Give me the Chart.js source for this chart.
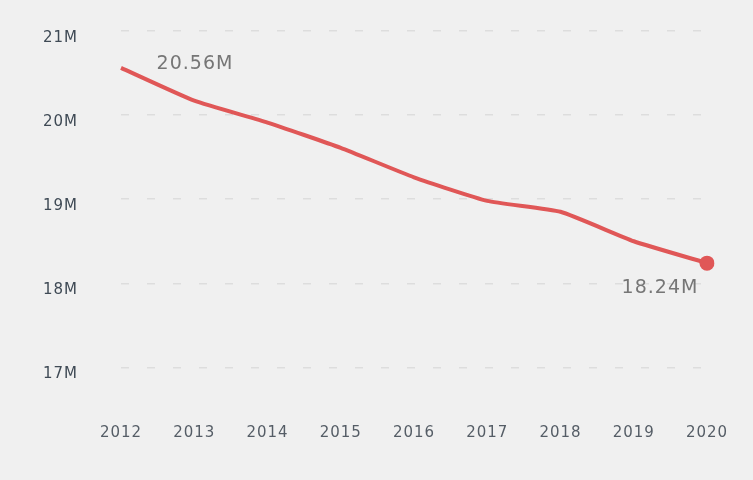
<!DOCTYPE html>
<html>
<head>
<meta charset="utf-8">
<script src="https://cdn.jsdelivr.net/npm/chart.js@4/dist/chart.umd.min.js"></script>
<style>
  html, body { margin: 0; padding: 0; background: #f0f0f0; }
  #wrap { width: 753px; height: 480px; }
</style>
</head>
<body>
<div id="wrap"><canvas id="popChart" width="753" height="480"></canvas></div>
<script>
const years = ["2012", "2013", "2014", "2015", "2016", "2017", "2018", "2019", "2020"];
const population = [20.56, 20.17, 19.91, 19.61, 19.26, 18.98, 18.85, 18.50, 18.24];
const yTicks = [17, 18, 19, 20, 21];
// value callouts: [index, text]
const callouts = [[0, "20.56M"], [8, "18.24M"]];

const lineColor = "#e05757";
const fontFamily = "'DejaVu Sans', sans-serif";

const spacingPlugin = {
  id: "spacing",
  beforeDraw(chart) { chart.ctx.letterSpacing = "1px"; }
};

const calloutPlugin = {
  id: "callouts",
  afterDatasetsDraw(chart) {
    const meta = chart.getDatasetMeta(0);
    const ctx = chart.ctx;
    ctx.save();
    ctx.font = "19px " + fontFamily;
    ctx.fillStyle = "#767676";
    ctx.textBaseline = "middle";
    ctx.textAlign = "center";
    callouts.forEach(([i, text]) => {
      const pt = meta.data[i];
      // first label sits to the right, last one below-left
      if (i === 0) ctx.fillText(text, pt.x + 74, pt.y - 4);
      else ctx.fillText(text, pt.x - 47, pt.y + 25);
    });
    ctx.restore();
  }
};

const ctx = document.getElementById("popChart").getContext("2d");
new Chart(ctx, {
  type: "line",
  data: {
    labels: years,
    datasets: [{
      data: population,
      borderColor: lineColor,
      borderWidth: 4,
      tension: 0.15,
      pointRadius: population.map((v, i) => i === population.length - 1 ? 7.5 : 0),
      pointBackgroundColor: lineColor,
      pointBorderWidth: 0,
      fill: false
    }]
  },
  options: {
    responsive: false,
    animation: false,
    layout: { padding: { top: 14, right: 46, bottom: 32, left: 43 } },
    plugins: { legend: { display: false }, tooltip: { enabled: false } },
    scales: {
      x: {
        offset: false,
        grid: { display: false, drawTicks: false },
        border: { display: false },
        ticks: { color: "#555d66", padding: 6, font: { family: fontFamily, size: 15 } }
      },
      y: {
        min: 16.4,
        max: 21.2,
        afterBuildTicks: axis => { axis.ticks = yTicks.map(v => ({ value: v })); },
        afterFit: axis => { axis.width = 78; },
        grid: { color: "#dddddd", lineWidth: 1.5, drawTicks: false },
        border: { display: false, dash: [8, 18] },
        ticks: {
          color: "#3f4a55",
          padding: 4,
          crossAlign: "far",
          labelOffset: 7,
          font: { family: fontFamily, size: 15 },
          callback: v => v + "M"
        }
      }
    }
  },
  plugins: [spacingPlugin, calloutPlugin]
});
</script>
</body>
</html>
